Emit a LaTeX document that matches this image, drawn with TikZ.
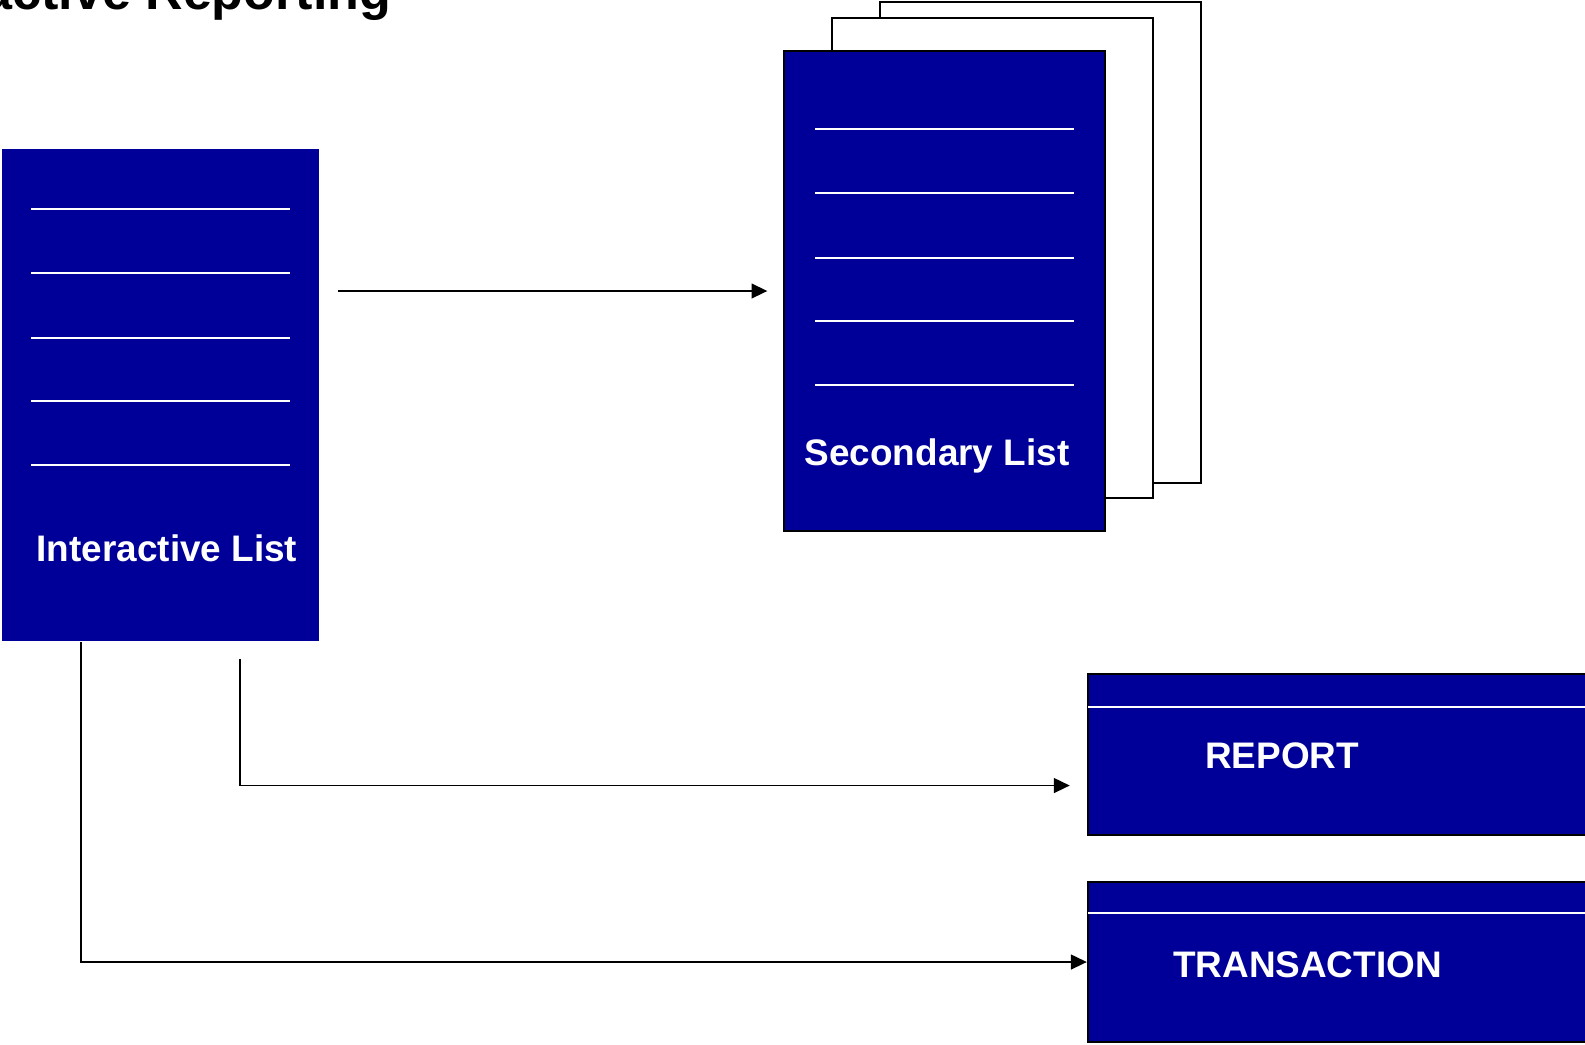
\documentclass[tikz,border=0pt]{standalone}
\usepackage{fontspec}
\setmainfont{Liberation Sans}
\usetikzlibrary{arrows.meta,calc}
\tikzset{>={Triangle[length=4.5pt,width=4.2pt]}}
\definecolor{listblue}{RGB}{0,0,153}
\tikzset{
  sheet/.style={rectangle,draw,line width=0.6pt,fill=white,minimum width=3.2cm,minimum height=4.8cm,inner sep=0pt},
  bluesheet/.style={sheet,fill=listblue},
  screen/.style={rectangle,draw,line width=0.6pt,fill=listblue,minimum width=5.2cm,minimum height=1.6cm,inner sep=0pt},
  boxtext/.style={text=white,font=\bfseries\fontsize{10.5}{12}\selectfont,anchor=base},
  rule/.style={white,line width=0.6pt},
  flow/.style={->,line width=0.5pt}
}

\begin{document}
\begin{tikzpicture}[x=0.01cm,y=-0.01cm]
  \useasboundingbox (0,0) rectangle (1585,1044);
  \node (title) at (392,9) [anchor=base east,inner sep=0pt,font=\bfseries\fontsize{14.8}{17}\selectfont] {Interactive Reporting};

  \node (interactive) at (160.5,395) [rectangle,fill=listblue,minimum width=3.17cm,minimum height=4.92cm,inner sep=0pt] {};
  \foreach \y in {61,125,190,253,317}
    \draw[rule] ($(interactive.north west)+(30,\y)$) -- ($(interactive.north east)+(-30,\y)$);
  \node (interlabel) at (167,561) [boxtext] {Interactive List};

  \node (backsheet) at (1040.5,242.5) [sheet] {};
  \node (midsheet) at (992.5,258) [sheet] {};
  \node (secondary) at (944.5,291) [bluesheet] {};
  \foreach \y in {79,143,208,271,335}
    \draw[rule] ($(secondary.north west)+(32,\y)$) -- ($(secondary.north east)+(-32,\y)$);
  \node (seclabel) at (937,465) [boxtext] {Secondary List};

  \node (report) at (1348,754.5) [screen,minimum height=1.61cm] {};
  \draw[rule] ($(report.north west)+(1,34)$) -- ($(report.north east)+(0,34)$);
  \node (reportlabel) at (1282,768) [boxtext] {REPORT};

  \node (transaction) at (1348,962) [screen] {};
  \draw[rule] ($(transaction.north west)+(1,32)$) -- ($(transaction.north east)+(0,32)$);
  \node (translabel) at (1307.5,977) [boxtext] {TRANSACTION};

  \draw[flow,shorten <=0.18cm,shorten >=0.16cm] (interactive.east |- secondary.west) -- (secondary.west);
  \draw[flow,shorten <=0.17cm,shorten >=0.17cm] ($(interactive.south west)!0.75!(interactive.south east)$) |- ([yshift=-0.31cm]report.west);
  \draw[flow] ($(interactive.south west)!0.25!(interactive.south east)$) |- (transaction.west);
\end{tikzpicture}
\end{document}
